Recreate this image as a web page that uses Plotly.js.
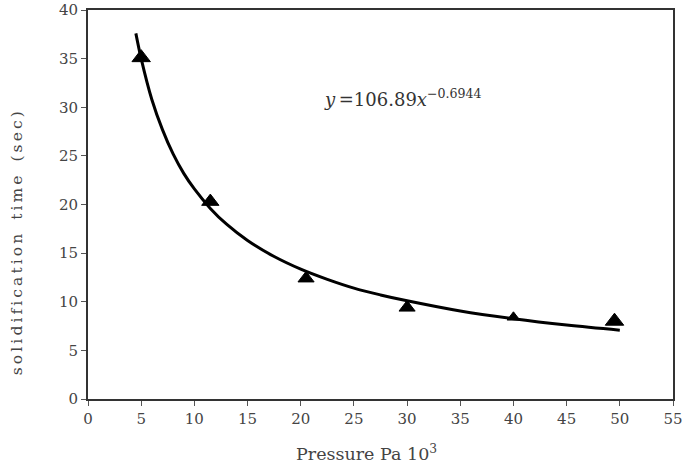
<!DOCTYPE html>
<html><head><meta charset="utf-8">
<script src="https://cdn.plot.ly/plotly-3.0.1.min.js"></script>
<style>html,body{margin:0;padding:0;background:#fff;}#chart{width:684px;height:468px;}</style>
</head><body><div id="chart"></div>
<script>
// Measured data points (pressure, solidification time)
var pressure = [5, 11.5, 20.5, 30, 40, 49.5];
var solidTime = [35.1, 20.3, 12.4, 9.4, 8.4, 8.0];
// Fitted trend curve
var fitX = [4.5, 5, 6, 7, 8, 9, 10, 11.5, 13, 15, 17.5, 20, 22.5, 25, 27.5, 30, 35, 40, 45, 50];
var fitY = [37.6, 35.0, 30.8, 27.7, 25.2, 23.2, 21.6, 19.6, 18.0, 16.3, 14.65, 13.35, 12.3, 11.4, 10.7, 10.1, 9.05, 8.25, 7.6, 7.07];
var xTicks = [0, 5, 10, 15, 20, 25, 30, 35, 40, 45, 50, 55];
var yTicks = [0, 5, 10, 15, 20, 25, 30, 35, 40];

var markerSizes = [16, 15, 14, 14, 11, 16];
var serif = 'DejaVu Serif';
var hs = '\u2009';
function spaced(s) { return s.split('').join(hs).replace(/ /g, '\u2002'); }

var traces = [
  {x: fitX, y: fitY, mode: 'lines', line: {color: '#000', width: 3, shape: 'spline'}, hoverinfo: 'skip'},
  {x: pressure, y: solidTime, mode: 'markers', marker: {symbol: 'triangle-up', color: '#000', opacity: 1, size: markerSizes, line: {color: '#000', width: 1}}}
];

var layout = {
  width: 684, height: 468,
  margin: {l: 88, r: 11, t: 10, b: 69},
  paper_bgcolor: '#fff', plot_bgcolor: '#fff',
  showlegend: false,
  font: {family: serif, color: '#333'},
  xaxis: {range: [0, 55], tickvals: xTicks, ticktext: xTicks.map(String), showgrid: false, zeroline: false,
    showline: true, linecolor: '#333', linewidth: 2, mirror: true, ticks: 'outside', ticklen: 5, tickcolor: '#555', tickwidth: 1,
    tickfont: {family: serif, size: 15, color: '#444'}},
  yaxis: {range: [0, 40], tickvals: yTicks, ticktext: yTicks.map(String), showgrid: false, zeroline: false,
    showline: true, linecolor: '#333', linewidth: 2, mirror: true, ticks: 'outside', ticklen: 5, tickcolor: '#555', tickwidth: 1,
    tickfont: {family: serif, size: 15, color: '#444'}},
  annotations: [
    {xref: 'paper', yref: 'paper', x: -0.12, y: 0.40, xanchor: 'center', yanchor: 'middle', textangle: -90, showarrow: false,
     text: spaced('solidification time (sec)'), font: {family: serif, size: 15.5, color: '#444'}},
    {xref: 'x', yref: 'paper', x: 26.2, y: -0.105, xanchor: 'center', yanchor: 'top', showarrow: false,
     text: 'Pressure Pa 10<sup>3</sup>', font: {family: serif, size: 17.5, color: '#444'}},
    {xref: 'x', yref: 'y', x: 29.6, y: 31.0, xanchor: 'center', yanchor: 'middle', showarrow: false,
     text: '<i>y</i>' + hs + '=106.89<i>x</i><sup>−0.6944</sup>', font: {family: serif, size: 18, color: '#333'}}
  ]
};
Plotly.newPlot('chart', traces, layout, {displayModeBar: false, staticPlot: true});
</script></body></html>
